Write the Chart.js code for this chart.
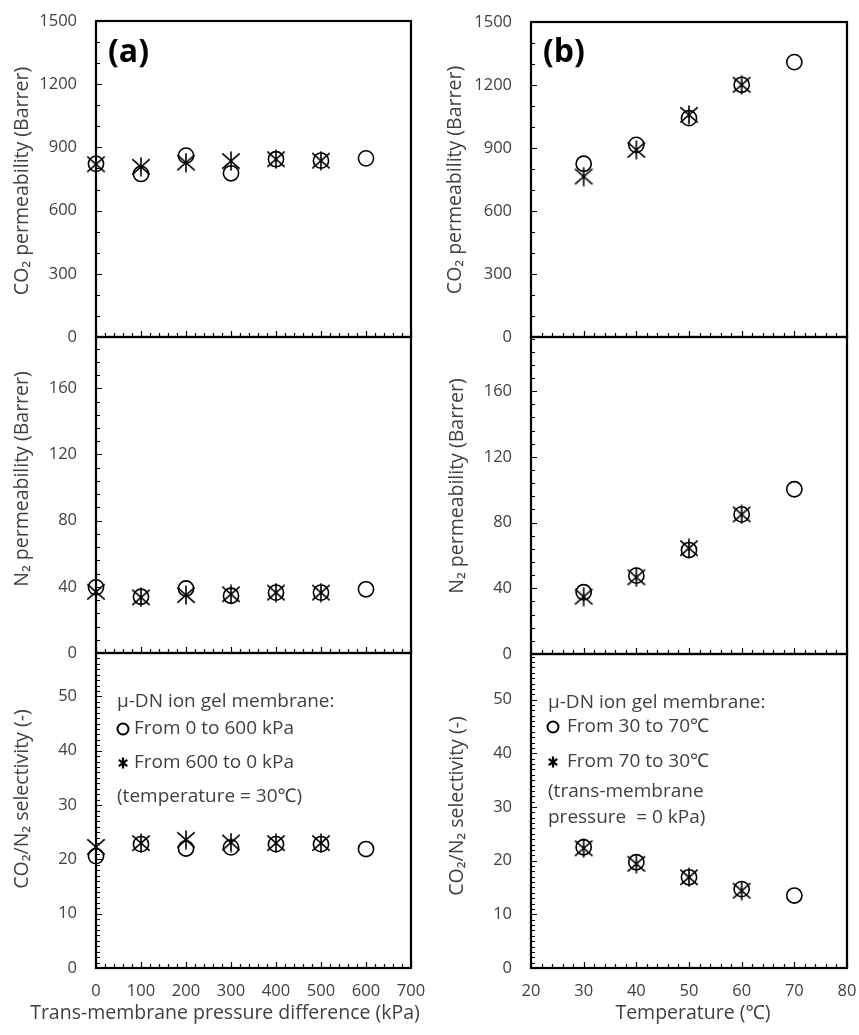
<!DOCTYPE html>
<html>
<head>
<meta charset="utf-8">
<script src="https://cdn.jsdelivr.net/npm/chart.js@4.4.1/dist/chart.umd.min.js"></script>
<style>
  html, body { margin: 0; padding: 0; background: #fff; }
  #wrap { position: relative; width: 859px; height: 1035px; overflow: hidden; }
  #wrap canvas { position: absolute; top: 0; }
</style>
</head>
<body>
<div id="wrap">
  <canvas id="a1"></canvas><canvas id="a2"></canvas><canvas id="a3"></canvas>
  <canvas id="b1"></canvas><canvas id="b2"></canvas><canvas id="b3"></canvas>
</div>
<script>
// ---- data ----
// (a) pressure sweep at 30 C
const pressure = [0, 100, 200, 300, 400, 500, 600];
const pressureBack = [0, 100, 200, 300, 400, 500];
const co2PressUp = [822, 774, 861, 777, 844, 837, 848];
const co2PressDown = [820, 808, 828, 835, 844, 837];
const n2PressUp = [39.7, 34, 39, 34.6, 36.5, 36.5, 38.5];
const n2PressDown = [37, 33.6, 35, 35.5, 36.5, 36.5];
const selPressUp = [20.6, 22.8, 22, 22.2, 22.8, 22.8, 21.9];
const selPressDown = [22.3, 23, 23.6, 23.1, 23, 23];

// (b) temperature sweep at 0 kPa
const temperature = [30, 40, 50, 60, 70];
const temperatureBack = [30, 40, 50, 60];
const co2TempUp = [825, 915, 1042, 1201, 1309];
const co2TempDown = [764, 891, 1058, 1201];
const n2TempUp = [37.6, 47.7, 63.3, 85, 100.3];
const n2TempDown = [34.9, 46.7, 64.4, 85];
const selTempUp = [22.5, 19.7, 16.9, 14.7, 13.5];
const selTempDown = [22.3, 19.4, 16.9, 14.4];

// tick labels
const pressureTicks = [0, 100, 200, 300, 400, 500, 600, 700];
const temperatureTicks = [20, 30, 40, 50, 60, 70, 80];
const co2Ticks = [0, 300, 600, 900, 1200, 1500];
const n2Ticks = [0, 40, 80, 120, 160];
const selTicks = [0, 10, 20, 30, 40, 50];

const FONT = "'Open Sans', 'Noto Sans', 'DejaVu Sans', sans-serif";
const INK = '#404040';

function pts(xs, ys) {
  return ys.map((y, i) => ({ x: xs[i], y: y }));
}

// Excel style star marker: an X with a vertical bar
function starMarker(size, lw) {
  const c = document.createElement('canvas');
  c.width = size; c.height = size;
  const g = c.getContext('2d');
  g.strokeStyle = '#000';
  g.lineWidth = lw;
  const m = lw * 0.8;
  g.beginPath();
  g.moveTo(m, m + 1); g.lineTo(size - m, size - m - 1);
  g.moveTo(size - m, m + 1); g.lineTo(m, size - m - 1);
  g.moveTo(size / 2, 0.5); g.lineTo(size / 2, size - 0.5);
  g.stroke();
  return c;
}
const STAR = starMarker(20, 1.6);
const STAR_SMALL = starMarker(12, 2.2);

// frame, inward ticks, titles, legend text
const decor = {
  id: 'decor',
  afterDatasetsDraw(chart) {
    const o = chart.config.options.plugins.decor;
    const ctx = chart.ctx;
    const a = chart.chartArea;
    const xs = chart.scales.x, ys = chart.scales.y;
    ctx.save();
    ctx.strokeStyle = '#000';
    ctx.lineWidth = 1.2;
    ctx.beginPath();
    for (let v = Math.ceil(xs.min / o.xMinor) * o.xMinor; v <= xs.max + 1e-6; v += o.xMinor) {
      const px = Math.round(xs.getPixelForValue(v)) + 0.5;
      const len = Math.abs(v / o.xMajor - Math.round(v / o.xMajor)) < 1e-6 ? 6 : 4;
      ctx.moveTo(px, a.bottom);
      ctx.lineTo(px, a.bottom - len);
    }
    for (let v = 0; v <= ys.max + 1e-6; v += o.yMinor) {
      const py = Math.round(ys.getPixelForValue(v)) + 0.5;
      const len = Math.abs(v / o.yMajor - Math.round(v / o.yMajor)) < 1e-6 ? 6 : 4;
      ctx.moveTo(a.left, py);
      ctx.lineTo(a.left + len, py);
    }
    ctx.stroke();
    ctx.lineWidth = 2.2;
    ctx.strokeRect(a.left, a.top, a.right - a.left, a.bottom - a.top);

    // y title
    ctx.fillStyle = INK;
    ctx.font = '19.5px ' + FONT;
    ctx.textAlign = 'center';
    ctx.textBaseline = 'middle';
    ctx.save();
    ctx.translate(o.yTitle.x, o.yTitle.y);
    ctx.rotate(-Math.PI / 2);
    ctx.fillText(o.yTitle.text, 0, 0);
    ctx.restore();
    if (o.xTitle) {
      ctx.font = '19.5px ' + FONT;
      ctx.fillText(o.xTitle.text, o.xTitle.x, o.xTitle.y);
    }
    if (o.tag) {
      ctx.fillStyle = '#000';
      ctx.font = 'bold 32px ' + FONT;
      ctx.textAlign = 'left';
      ctx.fillText(o.tag.text, o.tag.x, o.tag.y);
    }
    if (o.legend) {
      ctx.font = '19px ' + FONT;
      ctx.textAlign = 'left';
      o.legend.forEach(it => {
        ctx.fillStyle = INK;
        ctx.fillText(it.text, it.x, it.y);
        if (it.sym === 'circle') {
          ctx.strokeStyle = '#000';
          ctx.lineWidth = 2;
          ctx.beginPath();
          ctx.arc(it.sx, it.y, 5.5, 0, Math.PI * 2);
          ctx.stroke();
        } else if (it.sym === 'star') {
          ctx.drawImage(STAR_SMALL, it.sx - 6, it.y - 6);
        }
      });
    }
    ctx.restore();
  }
};

function panel(id, left, width, o) {
  const cv = document.getElementById(id);
  cv.width = width;
  cv.height = 1035;
  cv.style.left = left + 'px';
  const bottomAxis = !!o.xTicks;
  const chart = new Chart(cv, {
    type: 'scatter',
    data: {
      datasets: [
        { data: o.up, pointStyle: 'circle', pointRadius: 7.6, borderWidth: 1.6,
          borderColor: '#000', backgroundColor: 'rgba(0,0,0,0)', clip: false },
        { data: o.down, pointStyle: STAR, pointRadius: 10,
          borderColor: '#000', backgroundColor: '#000', clip: false }
      ]
    },
    options: {
      responsive: false,
      animation: false,
      events: [],
      layout: { padding: { top: o.top, bottom: bottomAxis ? 0 : 1035 - o.bottom, left: 0, right: width - o.right } },
      plugins: { legend: { display: false }, tooltip: { enabled: false }, decor: o.decor },
      scales: {
        x: {
          type: 'linear', min: o.xMin, max: o.xMax,
          afterFit: s => {
            s.height = bottomAxis ? 1035 - o.bottom : 0;
            s.paddingLeft = 0; s.paddingRight = 0;
          },
          afterBuildTicks: s => { s.ticks = (o.xTicks || []).map(v => ({ value: v })); },
          ticks: { display: bottomAxis, padding: 13, color: INK, font: { family: FONT, size: 16.5 },
            maxRotation: 0, autoSkip: false, callback: v => String(v) },
          grid: { display: false, drawTicks: false },
          border: { display: false }
        },
        y: {
          type: 'linear', min: 0, max: o.yMax,
          afterFit: s => {
            s.width = o.left;
            s.paddingTop = 0; s.paddingBottom = 0;
          },
          afterBuildTicks: s => { s.ticks = o.yTicks.map(v => ({ value: v })); },
          ticks: { padding: 19, color: INK, font: { family: FONT, size: 16.5 },
            autoSkip: false, callback: v => String(v) },
          grid: { display: false, drawTicks: false },
          border: { display: false }
        }
      }
    },
    plugins: [decor]
  });
  // nudge the padding until the plot area sits exactly where the figure has it
  for (let k = 0; k < 3; k++) {
    const a = chart.chartArea, p = chart.options.layout.padding;
    const dt = a.top - o.top, db = o.bottom - a.bottom, dr = o.right - a.right;
    if (Math.abs(dt) < 0.5 && Math.abs(db) < 0.5 && Math.abs(dr) < 0.5) break;
    p.top -= dt; p.bottom -= db; p.right -= dr;
    chart.update();
  }
}

const leftGeo = { left: 96, right: 411 };
const rightGeo = { left: 101, right: 417 };

// ---- (a) ----
panel('a1', 0, 430, Object.assign({}, leftGeo, {
  top: 21, bottom: 337, xMin: 0, xMax: 700, yMax: 1500, yTicks: co2Ticks,
  up: pts(pressure, co2PressUp), down: pts(pressureBack, co2PressDown),
  decor: { xMinor: 20, xMajor: 100, yMinor: 100, yMajor: 300,
    yTitle: { text: 'CO₂ permeability (Barrer)', x: 22, y: 181 },
    tag: { text: '(a)', x: 108, y: 53 } }
}));
panel('a2', 0, 430, Object.assign({}, leftGeo, {
  top: 337, bottom: 653, xMin: 0, xMax: 700, yMax: 191, yTicks: n2Ticks,
  up: pts(pressure, n2PressUp), down: pts(pressureBack, n2PressDown),
  decor: { xMinor: 20, xMajor: 100, yMinor: 8, yMajor: 40,
    yTitle: { text: 'N₂ permeability (Barrer)', x: 22, y: 479 } }
}));
panel('a3', 0, 430, Object.assign({}, leftGeo, {
  top: 653, bottom: 968, xMin: 0, xMax: 700, yMax: 58, yTicks: selTicks, xTicks: pressureTicks,
  up: pts(pressure, selPressUp), down: pts(pressureBack, selPressDown),
  decor: { xMinor: 20, xMajor: 100, yMinor: 1, yMajor: 10,
    yTitle: { text: 'CO₂/N₂ selectivity (-)', x: 22, y: 799 },
    xTitle: { text: 'Trans-membrane pressure difference (kPa)', x: 225, y: 1013 },
    legend: [
      { text: 'μ-DN ion gel membrane:', x: 117, y: 702 },
      { text: 'From 0 to 600 kPa', x: 134, y: 729, sym: 'circle', sx: 123 },
      { text: 'From 600 to 0 kPa', x: 134, y: 763, sym: 'star', sx: 123 },
      { text: '(temperature = 30℃)', x: 117, y: 797 }
    ] }
}));

// ---- (b) ----
panel('b1', 430, 429, Object.assign({}, rightGeo, {
  top: 22, bottom: 337, xMin: 20, xMax: 80, yMax: 1500, yTicks: co2Ticks,
  up: pts(temperature, co2TempUp), down: pts(temperatureBack, co2TempDown),
  decor: { xMinor: 2, xMajor: 10, yMinor: 100, yMajor: 300,
    yTitle: { text: 'CO₂ permeability (Barrer)', x: 25, y: 180 },
    tag: { text: '(b)', x: 113, y: 53 } }
}));
panel('b2', 430, 429, Object.assign({}, rightGeo, {
  top: 337, bottom: 654, xMin: 20, xMax: 80, yMax: 193, yTicks: n2Ticks,
  up: pts(temperature, n2TempUp), down: pts(temperatureBack, n2TempDown),
  decor: { xMinor: 2, xMajor: 10, yMinor: 8, yMajor: 40,
    yTitle: { text: 'N₂ permeability (Barrer)', x: 27, y: 486 } }
}));
panel('b3', 430, 429, Object.assign({}, rightGeo, {
  top: 654, bottom: 968, xMin: 20, xMax: 80, yMax: 58.5, yTicks: selTicks, xTicks: temperatureTicks,
  up: pts(temperature, selTempUp), down: pts(temperatureBack, selTempDown),
  decor: { xMinor: 2, xMajor: 10, yMinor: 1, yMajor: 10,
    yTitle: { text: 'CO₂/N₂ selectivity (-)', x: 27, y: 806 },
    xTitle: { text: 'Temperature (℃)', x: 263, y: 1013 },
    legend: [
      { text: 'μ-DN ion gel membrane:', x: 118, y: 703 },
      { text: 'From 30 to 70℃', x: 137, y: 727, sym: 'circle', sx: 123 },
      { text: 'From 70 to 30℃', x: 137, y: 762, sym: 'star', sx: 123 },
      { text: '(trans-membrane', x: 118, y: 792 },
      { text: 'pressure  = 0 kPa)', x: 118, y: 818 }
    ] }
}));
</script>
</body>
</html>
